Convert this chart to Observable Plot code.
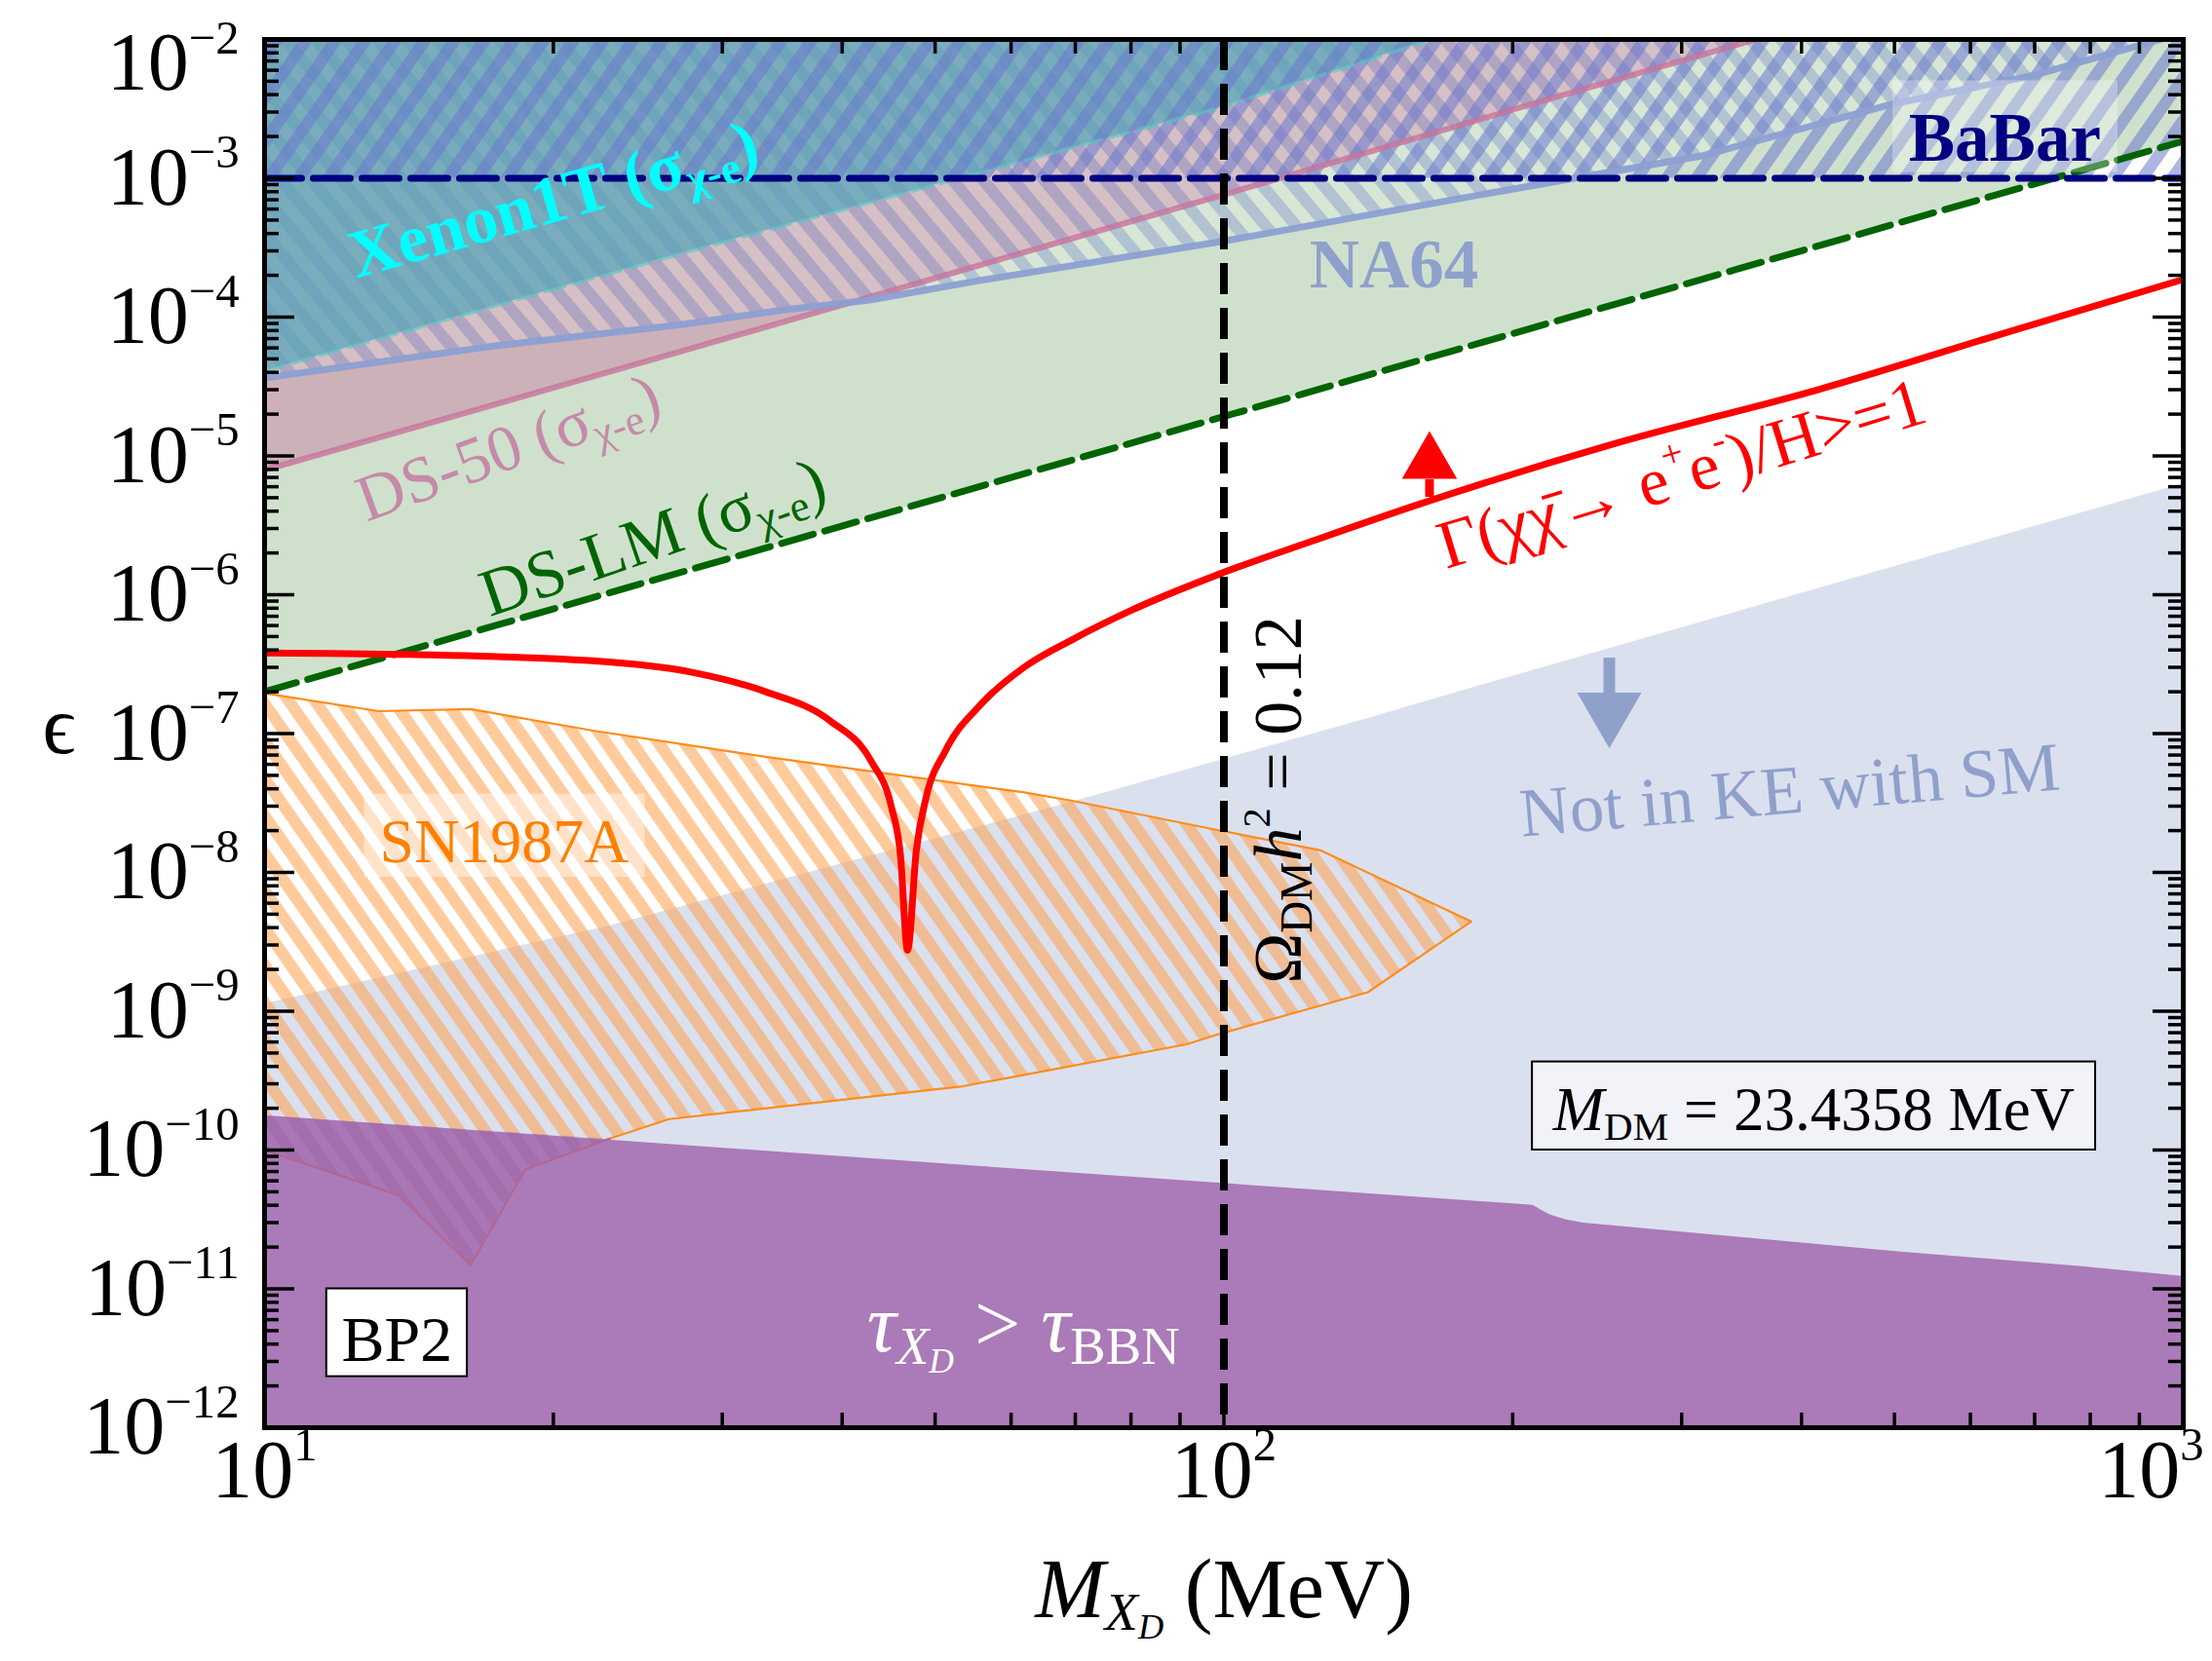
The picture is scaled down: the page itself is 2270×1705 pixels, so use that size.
<!DOCTYPE html>
<html><head><meta charset="utf-8">
<script src="https://cdn.jsdelivr.net/npm/d3@7"></script>
<script src="https://cdn.jsdelivr.net/npm/@observablehq/plot@0.6"></script>
<style>body{margin:0;background:#fff}#chart svg{display:block}</style>
</head><body><div id="chart"></div>
<script>
// ---------------- data (x: M_XD in MeV, y: epsilon) ----------------
const dslmX = [10, 1000];
const dslmY = [2.0e-7, 1.85e-3];

const xenonX = [10, 27.3, 97, 165];
const xenonY = [4.1e-5, 2.9e-4, 3.1e-3, 1.0e-2];

const ds50X = [10, 27.3, 100, 199.5, 358];
const ds50Y = [7.9e-6, 5.71e-5, 7.62e-4, 3.1e-3, 1.0e-2];

const na64X = [10, 17.5, 27.3, 34.5, 42.6, 55.5, 98.9, 177, 315, 498, 703, 970];
const na64Y = [3.64e-5, 6.24e-5, 8.85e-5, 1.12e-4, 1.32e-4, 1.83e-4, 3.48e-4, 7.2e-4, 1.45e-3, 3.43e-3, 5.57e-3, 1.05e-2];

const babarX = [10, 1000];
const babarY = [1e-3, 1e-3];

const gammaX = [10, 14.1, 22.0, 27.9, 33.3, 38.9, 42.9, 45.0, 46.0, 46.8, 47.8, 48.9, 51.3, 55.7, 61.9, 69.5, 80, 98.4, 125, 160, 258, 416, 644, 1000];
const gammaY = [3.81e-7, 3.71e-7, 3.34e-7, 2.76e-7, 2.0e-7, 1.23e-7, 6.3e-8, 3.0e-8, 1.35e-8, 2.75e-9, 1.45e-8, 3.4e-8, 7.6e-8, 1.6e-7, 3.0e-7, 4.75e-7, 7.7e-7, 1.39e-6, 2.5e-6, 4.5e-6, 1.25e-5, 3.0e-5, 7.5e-5, 1.87e-4];

const keX = [10, 23.0, 69.5, 142.2, 177.4, 1000];
const keY = [1.13e-9, 4.15e-9, 3.21e-8, 1.30e-7, 2.04e-7, 6.3e-6];

const bbnX = [10, 61.7, 210, 214, 219, 227, 237, 508, 780, 1000];
const bbnY = [1.77e-10, 7.24e-11, 4.0e-11, 3.7e-11, 3.4e-11, 3.15e-11, 2.98e-11, 1.84e-11, 1.45e-11, 1.23e-11];

const snX = [10, 13.15, 16.4, 22.0, 33.3, 61.9, 69.5, 98.4, 126.2, 181.1, 141.3, 98.4, 91.4, 61.9, 53.1, 26.4, 22.9, 18.7, 16.4, 13.8, 10];
const snY = [1.95e-7, 1.45e-7, 1.50e-7, 1.05e-7, 6.8e-8, 3.77e-8, 3.28e-8, 2.02e-8, 1.44e-8, 4.43e-9, 1.37e-9, 6.78e-10, 5.77e-10, 3.48e-10, 2.86e-10, 1.67e-10, 1.21e-10, 7.26e-11, 1.48e-11, 4.72e-11, 1.0e-10];

const wedgeX = [10, 22.9, 18.7, 16.4, 13.8, 10];
const wedgeY = [1.77e-10, 1.21e-10, 7.26e-11, 1.48e-11, 4.72e-11, 1.0e-10];

const omegaX = 100; // relic-density line

// ticks
const xMajor = [10, 100, 1000];
const xExp = [1, 2, 3];
const xMinor = [20, 30, 40, 50, 60, 70, 80, 90, 200, 300, 400, 500, 600, 700, 800, 900];
const yExp = [-12, -11, -10, -9, -8, -7, -6, -5, -4, -3, -2];
const yMajor = yExp.map(e => Math.pow(10, e));
const yMinor = [];
for (const e of yExp.slice(0, -1)) for (let k = 2; k <= 9; k++) yMinor.push(k * Math.pow(10, e));

// annotation anchors (data units) and texts
const xenonLabel = [{x: 20.0, y: 7.0e-4, t: "Xenon1T (σ<sub>χ-e</sub>)"}];
const na64Label = [{x: 150.4, y: 2.37e-4, t: "NA64"}];
const ds50Label = [{x: 17.95, y: 1.14e-5, t: "DS-50 (σ<sub>χ-e</sub>)"}];
const dslmLabel = [{x: 25.4, y: 2.57e-6, t: "DS-LM (σ<sub>χ-e</sub>)"}];
const snLabel = [{x: 17.78, y: 1.64e-8, t: "SN1987A"}];
const snBox = [{x1: 12.71, x2: 24.93, y1: 9.2e-9, y2: 3.67e-8}];
const keLabel = [{x: 388.7, y: 3.86e-8, t: "Not in KE with SM"}];
const gammaLabel = [{x: 300, y: 7.4e-6, t: "Γ(χχ̄→ e<sup>+</sup>e<sup>-</sup>)/H>=1"}];
const omegaLabel = [{x: 114.1, y: 3.33e-8, t: "Ω<sub>DM</sub><i>h</i><sup>2</sup> = 0.12"}];
const mdmLabel = [{x: 412, y: 1.92e-10, t: "<i>M</i><sub>DM</sub> = 23.4358 MeV"}];
const mdmBox = [{x1: 209.7, x2: 810.3, y1: 1.0e-10, y2: 4.31e-10}];
const bpLabel = [{x: 13.74, y: 4.25e-12, t: "BP2"}];
const bpBox = [{x1: 11.61, x2: 16.27, y1: 2.33e-12, y2: 1.0e-11}];
const tauLabel = [{x: 61.8, y: 5.5e-12, t: "<i>τ</i><sub><i>X</i><sub><i>D</i></sub></sub> > <i>τ</i><sub>BBN</sub>"}];
const babarLabel = [{x: 651.6, y: 1.94e-3, t: "BaBar"}];
const babarBox = [{x1: 498.2, x2: 855, y1: 1.10e-3, y2: 5.04e-3}];
const upArrow = [{x: 163.8, y1: 5.07e-6, y2: 6.79e-6, head: 8.89e-6}];
const downArrow = [{x: 252.2, y1: 3.52e-7, y2: 1.94e-7, head: 1.45e-7}];

// ---------------- build ----------------
const zip = (xs, ys) => xs.map((x, i) => ({x, y: ys[i]}));
const dslm = zip(dslmX, dslmY), xenon = zip(xenonX, xenonY), ds50 = zip(ds50X, ds50Y),
      na64 = zip(na64X, na64Y), babar = zip(babarX, babarY), gamma = zip(gammaX, gammaY),
      ke = zip(keX, keY), bbn = zip(bbnX, bbnY), sn = zip(snX, snY), wedge = zip(wedgeX, wedgeY);

const W = 2270, H = 1705, mL = 271, mR = 30, mT = 40, mB = 240;
const pw = W - mL - mR, ph = H - mT - mB;
const FONT = "'Liberation Serif', 'DejaVu Serif', serif";
const tickStyle = {stroke: "black", strokeWidth: 3.5};

const svg = Plot.plot({
  width: W, height: H,
  marginLeft: mL, marginRight: mR, marginTop: mT, marginBottom: mB,
  x: {type: "log", domain: [10, 1000], axis: null},
  y: {type: "log", domain: [1e-12, 1e-2], axis: null},
  style: {fontFamily: FONT, background: "white", overflow: "visible"},
  marks: [
    Plot.areaY(dslm, {x: "x", y1: "y", y2: 1e-2, fill: "#cfe1cd", clip: true}),
    Plot.areaY(ke, {x: "x", y1: 1e-12, y2: "y", fill: "#dbe0ef", clip: true}),
    Plot.line(sn, {x: "x", y: "y", fill: "url(#snHatch)", stroke: "#ff8c1a", strokeWidth: 2.2, clip: true}),
    Plot.areaY(bbn, {x: "x", y1: 1e-12, y2: "y", fill: "#ab7ab8", clip: true}),
    Plot.line(wedge, {x: "x", y: "y", fill: "url(#wedgeHatch)", stroke: "none", clip: true}),
    Plot.line(wedge.slice(1), {x: "x", y: "y", stroke: "#b3668e", strokeWidth: 2, clip: true}),
    Plot.areaY(ds50, {x: "x", y1: "y", y2: 1e-2, fill: "#c8799f", fillOpacity: 0.45, clip: true}),
    Plot.areaY(na64, {x: "x", y1: "y", y2: 1e-2, fill: "url(#na64Hatch)", clip: true}),
    Plot.areaY(xenon, {x: "x", y1: "y", y2: 1e-2, fill: "#5aa6b8", fillOpacity: 0.75, clip: true}),
    Plot.areaY(babar, {x: "x", y1: "y", y2: 1e-2, fill: "url(#babarHatch)", clip: true}),
    // boundary lines
    Plot.line(xenon, {x: "x", y: "y", stroke: "#55c4c4", strokeOpacity: 0.6, strokeWidth: 4, strokeDasharray: "20,10", clip: true}),
    Plot.line(ds50, {x: "x", y: "y", stroke: "#c8729a", strokeOpacity: 0.8, strokeWidth: 6, clip: true}),
    Plot.line(na64, {x: "x", y: "y", stroke: "#8c9fd2", strokeOpacity: 0.95, strokeWidth: 7, clip: true}),
    Plot.line(dslm, {x: "x", y: "y", stroke: "#006400", strokeWidth: 7, strokeDasharray: "34,12", clip: true}),
    Plot.line(babar, {x: "x", y: "y", stroke: "#000080", strokeWidth: 7, strokeDasharray: "38,12", clip: true}),
    Plot.line(gamma, {x: "x", y: "y", stroke: "#ff0000", strokeWidth: 7, curve: "monotone-x", clip: true}),
    Plot.ruleX([omegaX], {stroke: "black", strokeWidth: 8, strokeDasharray: "32,14"}),
    // arrows
    Plot.link(upArrow, {x1: "x", x2: "x", y1: "y1", y2: "y2", stroke: "#ff0000", strokeWidth: 9}),
    Plot.dot(upArrow, {x: "x", y: "head", symbol: "triangle", r: 21, fill: "#ff0000", stroke: "none"}),
    Plot.link(downArrow, {x1: "x", x2: "x", y1: "y1", y2: "y2", stroke: "#8fa0cb", strokeWidth: 12}),
    Plot.dot(downArrow, {x: "x", y: "head", symbol: "triangle", rotate: 180, r: 24.5, fill: "#8fa0cb", stroke: "none"}),
    // label boxes
    Plot.rect(snBox, {x1: "x1", x2: "x2", y1: "y1", y2: "y2", fill: "white", fillOpacity: 0.45}),
    Plot.rect(babarBox, {x1: "x1", x2: "x2", y1: "y1", y2: "y2", fill: "white", fillOpacity: 0.3}),
    Plot.rect(mdmBox, {x1: "x1", x2: "x2", y1: "y1", y2: "y2", fill: "#f1f3f9", stroke: "black", strokeWidth: 2}),
    Plot.rect(bpBox, {x1: "x1", x2: "x2", y1: "y1", y2: "y2", fill: "white", stroke: "black", strokeWidth: 2}),
    // labels
    Plot.text(xenonLabel, {x: "x", y: "y", text: "t", rotate: -15.8, fontSize: 70, fontWeight: "bold", fill: "#00ffff"}),
    Plot.text(na64Label, {x: "x", y: "y", text: "t", fontSize: 71, fontWeight: "bold", fill: "#8fa0cc"}),
    Plot.text(ds50Label, {x: "x", y: "y", text: "t", rotate: -20, fontSize: 67, fill: "#c58aa9"}),
    Plot.text(dslmLabel, {x: "x", y: "y", text: "t", rotate: -19, fontSize: 69, fill: "#006400"}),
    Plot.text(snLabel, {x: "x", y: "y", text: "t", fontSize: 64, fill: "#ff8000"}),
    Plot.text(keLabel, {x: "x", y: "y", text: "t", rotate: -5, fontSize: 71, fill: "#8fa0cb"}),
    Plot.text(gammaLabel, {x: "x", y: "y", text: "t", rotate: -17, fontSize: 70, fill: "#ff0000"}),
    Plot.text(omegaLabel, {x: "x", y: "y", text: "t", rotate: -90, fontSize: 70, fill: "black"}),
    Plot.text(mdmLabel, {x: "x", y: "y", text: "t", fontSize: 63, fill: "black"}),
    Plot.text(bpLabel, {x: "x", y: "y", text: "t", fontSize: 66, fill: "black"}),
    Plot.text(tauLabel, {x: "x", y: "y", text: "t", fontSize: 84, fill: "white"}),
    Plot.text(babarLabel, {x: "x", y: "y", text: "t", fontSize: 71, fontWeight: "bold", fill: "#000080"}),
    // ticks (inward)
    Plot.tickY(yMajor, {y: d => d, insetRight: pw - 31, ...tickStyle}),
    Plot.tickY(yMinor, {y: d => d, insetRight: pw - 15, ...tickStyle}),
    Plot.tickY(yMajor, {y: d => d, insetLeft: pw - 31, ...tickStyle}),
    Plot.tickY(yMinor, {y: d => d, insetLeft: pw - 15, ...tickStyle}),
    Plot.tickX(xMajor, {x: d => d, insetTop: ph - 31, ...tickStyle}),
    Plot.tickX(xMinor, {x: d => d, insetTop: ph - 15, ...tickStyle}),
    Plot.tickX(xMajor, {x: d => d, insetBottom: ph - 31, ...tickStyle}),
    Plot.tickX(xMinor, {x: d => d, insetBottom: ph - 15, ...tickStyle}),
    Plot.frame({stroke: "black", strokeWidth: 5}),
    // tick labels (top label nudged down to stay on the canvas, as in the original)
    Plot.text(yMajor.slice(0, -1), {y: d => d, text: (d, i) => `10<sup>\u2212${-yExp[i]}</sup>`, frameAnchor: "left", textAnchor: "end", dx: -26, fontSize: 84, fill: "black"}),
    Plot.text(yMajor.slice(-1), {y: d => d, text: () => `10<sup>\u2212${-yExp[yExp.length - 1]}</sup>`, frameAnchor: "left", textAnchor: "end", dx: -26, dy: 25, fontSize: 84, fill: "black"}),
    Plot.text(xMajor.slice(0, 2), {x: d => d, text: (d, i) => `10<sup>${xExp[i]}</sup>`, frameAnchor: "bottom", dy: 71, fontSize: 84, fill: "black"}),
    Plot.text(xMajor.slice(2), {x: d => d, text: () => `10<sup>${xExp[2]}</sup>`, frameAnchor: "bottom", textAnchor: "end", dx: 21, dy: 71, fontSize: 84, fill: "black"}),
    // axis titles
    Plot.text(["<i>M</i><sub><i>X</i><sub><i>D</i></sub></sub> (MeV)"], {text: d => d, frameAnchor: "bottom", dy: 194, fontSize: 86, fill: "black"}),
    Plot.text(["\u03F5"], {text: d => d, frameAnchor: "left", dx: -228, dy: -7, fontSize: 84, fill: "black"})
  ]
});

// hatch patterns
d3.select(svg).insert("defs", ":first-child").html(`
  <pattern id="snHatch" patternUnits="userSpaceOnUse" width="22" height="22" patternTransform="rotate(-35)">
    <rect width="12" height="22" fill="rgb(255,160,75)" fill-opacity="0.55"/>
  </pattern>
  <pattern id="wedgeHatch" patternUnits="userSpaceOnUse" width="22" height="22" patternTransform="rotate(-35)">
    <rect width="22" height="22" fill="rgb(140,70,130)" fill-opacity="0.06"/>
    <rect width="12" height="22" fill="rgb(140,70,130)" fill-opacity="0.16"/>
  </pattern>
  <pattern id="na64Hatch" patternUnits="userSpaceOnUse" width="24" height="24" patternTransform="rotate(-40)">
    <rect width="12" height="24" fill="rgb(120,140,215)" fill-opacity="0.35"/>
    <rect x="12" width="12" height="24" fill="white" fill-opacity="0.18"/>
  </pattern>
  <pattern id="babarHatch" patternUnits="userSpaceOnUse" width="25" height="25" patternTransform="rotate(35)">
    <rect width="12" height="25" fill="rgb(105,120,205)" fill-opacity="0.55"/>
  </pattern>`);

document.getElementById("chart").appendChild(svg);

// rich text (sub/superscripts, italics) inside text marks
const SVGNS = "http://www.w3.org/2000/svg";
function richify(el) {
  const src = el.textContent;
  const F = parseFloat(getComputedStyle(el).fontSize) || 16;
  const doc = new DOMParser().parseFromString(`<r>${src}</r>`, "application/xml");
  if (doc.getElementsByTagName("parsererror").length) return;
  el.textContent = "";
  let cur = 0;
  (function walk(node, st) {
    for (const ch of node.childNodes) {
      if (ch.nodeType === 3) {
        const t = document.createElementNS(SVGNS, "tspan");
        t.textContent = ch.nodeValue;
        t.setAttribute("font-size", st.size + "px");
        if (st.italic) t.setAttribute("font-style", "italic");
        const dy = st.shift - cur;
        if (Math.abs(dy) > 1e-6) t.setAttribute("dy", dy);
        cur = st.shift;
        el.appendChild(t);
      } else if (ch.nodeType === 1) {
        const s = {...st};
        const n = ch.nodeName;
        if (n === "i") s.italic = true;
        if (n === "sub") { s.shift = st.shift + 0.16 * st.size; s.size = st.size * 0.65; }
        if (n === "sup") { s.shift = st.shift - 0.45 * st.size; s.size = st.size * 0.58; }
        walk(ch, s);
      }
    }
  })(doc.documentElement, {size: F, shift: 0, italic: false});
}
svg.querySelectorAll("text").forEach(t => { if (t.textContent.includes("<")) richify(t); });
</script></body></html>
